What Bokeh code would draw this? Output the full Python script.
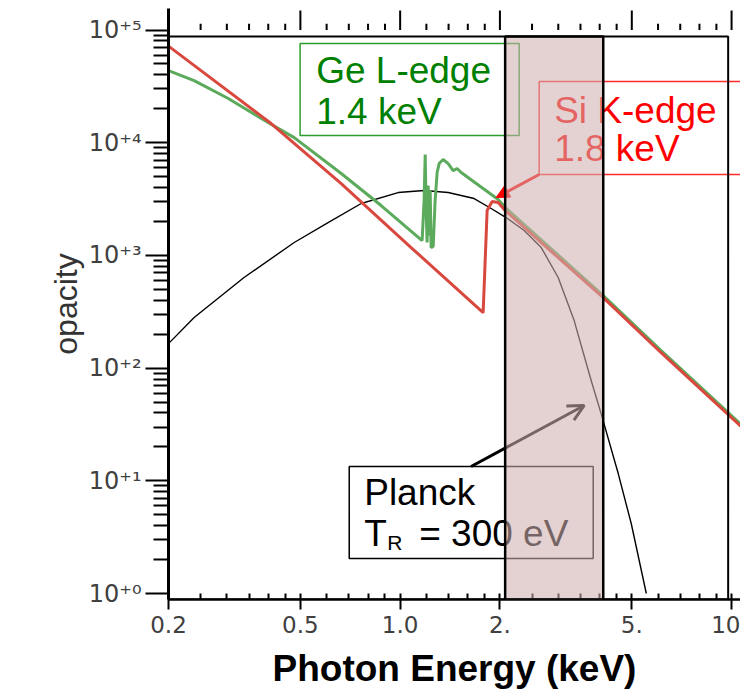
from bokeh.plotting import figure
from bokeh.models import FixedTicker, BoxAnnotation, Arrow, NormalHead, OpenHead
from bokeh.core.properties import value
from bokeh.embed import file_html
from bokeh.resources import INLINE

# ---- spectra: photon energy (keV) vs opacity ----
ge_energy = [0.2, 0.239, 0.303, 0.381, 0.479, 0.664, 0.876, 1.165,
             1.181, 1.190, 1.198, 1.206, 1.215, 1.223, 1.232, 1.240, 1.258,
             1.275, 1.293, 1.311, 1.348, 1.396, 1.445, 1.486, 1.528, 1.976,
             2.074, 4.10, 6.13, 10.69]
ge_opacity = [43700, 35600, 24700, 16400, 11100, 5330, 2773, 1356,
              3070, 7855, 2502, 1302, 4170, 1502, 3767, 1175, 1200,
              3070, 5443, 6536, 7096, 6536, 5665, 5902, 5443, 3133,
              2661, 441, 143, 31.6]

si_energy = [0.2, 0.408, 0.664, 1.079, 1.780, 1.830, 1.895, 1.976,
             2.074, 4.10, 6.13, 10.69]
si_opacity = [72000, 14800, 4346, 1175, 311, 2502, 3007, 2946,
              2502, 423, 137, 30.3]

planck_energy = [0.2, 0.239, 0.338, 0.479, 0.606, 0.763, 0.986, 1.181,
                 1.396, 1.672, 1.882, 2.088, 2.367, 2.665, 2.998, 3.35,
                 3.77, 4.04, 4.55, 4.98, 5.53]
planck_flux = [165, 281, 637, 1302, 1959, 2890, 3614, 3767,
               3614, 3199, 2608, 2169, 1663, 1175, 637, 264,
               77.6, 39.5, 11.6, 4.18, 1.0]

# ---- axes ----
x_ticks = [0.2, 0.5, 1.0, 2.0, 5.0, 10.0]
x_tick_labels = ["0.2", "0.5", "1.0", "2.", "5.", "10"]
x_minor_ticks = [0.25, 0.3, 0.35, 0.4, 0.45, 0.6, 0.7, 0.8, 0.9,
                 1.2, 1.4, 1.6, 1.8, 2.5, 3.0, 3.5, 4.0, 4.5,
                 6.0, 7.0, 8.0, 9.0]
y_ticks = [1, 10, 100, 1000, 10000, 100000]
y_tick_labels = ["10\u207a\u2070", "10\u207a\u00b9", "10\u207a\u00b2",
                 "10\u207a\u00b3", "10\u207a\u2074", "10\u207a\u2075"]
y_minor_ticks = [m * d for d in [1, 10, 100, 1000, 10000] for m in range(2, 10)]

# highlighted energy window (keV)
band_lo, band_hi = 2.074, 4.10
# inner plot box: right edge (keV) and top edge (opacity)
box_right, box_top = 9.766, 87500
# upper tick row: base level and tip levels (major / minor)
tick_base, tick_major_tip, tick_minor_tip = 1e5, 1.49e5, 1.14e5

FONT = "Liberation Sans"
TICK_FONT = "DejaVu Sans"

p = figure(width=740, height=699, x_axis_type="log", y_axis_type="log",
           x_range=(0.2, 10.64), y_range=(0.885, 1.553e5),
           output_backend="svg", toolbar_location=None,
           min_border_left=168, min_border_right=0,
           min_border_top=8, min_border_bottom=100)
p.outline_line_color = None
p.xgrid.visible = False
p.ygrid.visible = False
p.background_fill_color = "white"
p.border_fill_color = "white"

# bottom axis
xa = p.xaxis[0]
xa.ticker = FixedTicker(ticks=x_ticks, minor_ticks=x_minor_ticks)
xa.major_label_overrides = {t: s for t, s in zip(x_ticks, x_tick_labels)}
xa.axis_line_width = 2.5
xa.major_tick_in = 6
xa.major_tick_out = 10
xa.minor_tick_in = 6
xa.minor_tick_out = 0
xa.major_tick_line_width = 2
xa.minor_tick_line_width = 2
xa.major_label_text_font = TICK_FONT
xa.major_label_text_font_size = "23px"
xa.major_label_text_color = "#404040"
xa.major_label_standoff = 6
xa.axis_label = "Photon Energy (keV)"
xa.axis_label_text_font = FONT
xa.axis_label_text_font_style = "bold"
xa.axis_label_text_font_size = "37px"
xa.axis_label_text_color = "black"
xa.axis_label_standoff = 12

# left axis (its line is drawn by the plot box below)
ya = p.yaxis[0]
ya.ticker = FixedTicker(ticks=y_ticks, minor_ticks=y_minor_ticks)
ya.major_label_overrides = {t: s for t, s in zip(y_ticks, y_tick_labels)}
ya.axis_line_width = 3
ya.major_tick_in = 0
ya.major_tick_out = 23
ya.minor_tick_in = 0
ya.minor_tick_out = 15
ya.major_tick_line_width = 2
ya.minor_tick_line_width = 2
ya.major_label_text_font = TICK_FONT
ya.major_label_text_font_size = "24px"
ya.major_label_text_color = "#404040"
ya.major_label_standoff = 4
ya.axis_label = "opacity"
ya.axis_label_text_font = FONT
ya.axis_label_text_font_style = "normal"
ya.axis_label_text_font_size = "32px"
ya.axis_label_text_color = "#333333"
ya.axis_label_standoff = 2

# upper row of energy ticks, standing above the plot box
p.segment(x0=x_ticks, x1=x_ticks, y0=[tick_base] * len(x_ticks),
          y1=[tick_major_tip] * len(x_ticks), line_color="black", line_width=2)
p.segment(x0=x_minor_ticks, x1=x_minor_ticks, y0=[tick_base] * len(x_minor_ticks),
          y1=[tick_minor_tip] * len(x_minor_ticks), line_color="black", line_width=2)

# curves
p.line(planck_energy, planck_flux, line_color="black", line_width=1.4)
p.line(ge_energy, ge_opacity, line_color="#5cab5c", line_width=3)
p.line(si_energy, si_opacity, line_color="#d9483e", line_width=3)

# callout boxes
p.quad(left=[0.499], right=[2.286], top=[75900], bottom=[11590],
       fill_alpha=0, line_color="#2a9d2a", line_width=1.5)
p.quad(left=[2.627], right=[20.0], top=[34900], bottom=[5224],
       fill_alpha=0, line_color="#ff2a2a", line_width=1.5)
p.quad(left=[0.702], right=[3.824], top=[13.4], bottom=[2.045],
       fill_color="white", line_color="black", line_width=1.5)

ANN = "37px"
DY = -12
p.text(x=[0.558, 0.558], y=[34200, 14800], text=["Ge L-edge", "1.4 keV"],
       y_offset=DY, text_font=value(FONT), text_font_size=ANN,
       text_color="#008000", text_baseline="alphabetic", text_align="left")
p.text(x=[2.915, 2.915], y=[15110, 6950], text=["Si K-edge", "1.8 keV"],
       y_offset=DY, text_font=value(FONT), text_font_size=ANN,
       text_color="#ff0000", text_baseline="alphabetic", text_align="left")
p.text(x=[0.779], y=[6.16], text=["Planck"], y_offset=DY,
       text_font=value(FONT), text_font_size=ANN, text_color="black",
       text_baseline="alphabetic", text_align="left")
p.text(x=[0.779], y=[2.667], text=["T"], y_offset=DY,
       text_font=value(FONT), text_font_size=ANN, text_color="black",
       text_baseline="alphabetic", text_align="left")
p.text(x=[0.779], y=[2.667], text=["R"], x_offset=23, y_offset=DY + 9,
       text_font=value(FONT), text_font_size="21px", text_color="black",
       text_baseline="alphabetic", text_align="left")
p.text(x=[0.779], y=[2.667], text=["= 300 eV"], x_offset=55, y_offset=DY,
       text_font=value(FONT), text_font_size=ANN, text_color="black",
       text_baseline="alphabetic", text_align="left")

# arrows
p.add_layout(Arrow(end=NormalHead(size=13, fill_color="#ff0000", line_color="#ff0000"),
                   x_start=2.627, y_start=5224, x_end=1.949, y_end=3265,
                   line_color="#ff0000", line_width=3))
p.add_layout(Arrow(end=OpenHead(size=16, line_color="black", line_width=3),
                   x_start=1.637, y_start=13.4, x_end=3.592, y_end=46.6,
                   line_color="black", line_width=3))

# plot box and the shaded energy window on top
p.add_layout(BoxAnnotation(left=0.2, right=box_right, top=box_top,
                           fill_alpha=0, line_color="black", line_alpha=1,
                           line_width=2, level="overlay"))
p.add_layout(BoxAnnotation(left=band_lo, right=band_hi, top=box_top,
                           fill_color="#cfafaf", fill_alpha=0.57,
                           line_color="black", line_width=2.5, line_alpha=1,
                           level="overlay"))

open("out.html", "w").write(file_html(p, INLINE))
